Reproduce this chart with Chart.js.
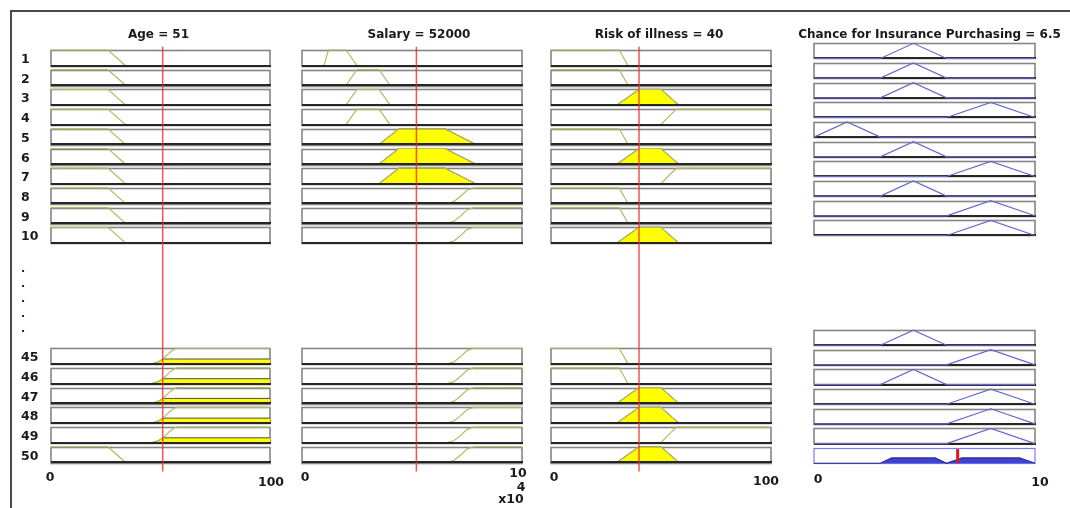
<!DOCTYPE html>
<html>
<head>
<meta charset="utf-8">
<script src="https://cdn.jsdelivr.net/npm/chart.js@4.4.1/dist/chart.umd.min.js"></script>
<style>
  html, body { margin: 0; padding: 0; background: #fff; }
  #wrap { position: relative; width: 1070px; height: 508px; overflow: hidden; background: #fff; }
  #wrap canvas { position: absolute; left: 0; top: 0; }
</style>
</head>
<body>
<div id="wrap">
  <canvas id="colAge" width="1070" height="508"></canvas>
  <canvas id="colSalary" width="1070" height="508"></canvas>
  <canvas id="colRisk" width="1070" height="508"></canvas>
  <canvas id="colChance" width="1070" height="508"></canvas>
</div>
<script>
// ---- inputs and crisp output ----
const inputAge = 51;
const inputSalary = 52000;
const inputRisk = 40;
const outputChance = 6.5;

// ---- membership functions: [value, degree] vertices ----
const ageYoung = [[0, 1], [26, 1], [34, 0], [100, 0]];
const ageOld = [[0, 0], [46, 0], [48, 0.07], [50, 0.2], [52, 0.42], [54, 0.7], [56, 0.92], [57.5, 1], [100, 1]];

const salaryVeryLow = [[0, 0], [10000, 0], [12000, 1], [20000, 1], [25000, 0], [100000, 0]];
const salaryLow = [[0, 0], [20000, 0], [25000, 1], [35000, 1], [40000, 0], [100000, 0]];
const salaryMedium = [[0, 0], [35000, 0], [44000, 1], [65000, 1], [79000, 0], [100000, 0]];
const salaryHigh = [[0, 0], [66000, 0], [69000, 0.12], [72000, 0.45], [75000, 0.85], [78000, 1], [100000, 1]];

const riskLow = [[0, 1], [31, 1], [35, 0], [100, 0]];
const riskMedium = [[0, 0], [30, 0], [40, 1], [50, 1], [58, 0], [100, 0]];
const riskHigh = [[0, 0], [50, 0], [53, 0.45], [57, 1], [100, 1]];

const chanceLow = [[0, 0], [1.5, 1], [3, 0], [10, 0]];
const chanceMid = [[0, 0], [3, 0], [4.5, 1], [6, 0], [10, 0]];
const chanceHigh = [[0, 0], [6, 0], [8, 1], [10, 0]];

// aggregated output set (all 50 rules)
const chanceAggregate = [[0, 0], [3, 0], [3.52, 0.35], [5.48, 0.35], [6, 0], [6.7, 0.35], [9.3, 0.35], [10, 0]];

// ---- rules shown ----
const ruleNumbers = [1, 2, 3, 4, 5, 6, 7, 8, 9, 10, 45, 46, 47, 48, 49, 50];
const ruleAge = ['young', 'young', 'young', 'young', 'young', 'young', 'young', 'young', 'young', 'young',
                 'old', 'old', 'old', 'old', 'old', 'young'];
const ruleSalary = ['veryLow', 'low', 'low', 'low', 'medium', 'medium', 'medium', 'high', 'high', 'high',
                    'high', 'high', 'high', 'high', 'high', 'high'];
const ruleRisk = ['low', 'low', 'medium', 'high', 'low', 'medium', 'high', 'low', 'low', 'medium',
                  'low', 'low', 'medium', 'medium', 'high', 'medium'];
const ruleChance = ['mid', 'mid', 'mid', 'high', 'low', 'mid', 'high', 'mid', 'high', 'high',
                    'mid', 'high', 'mid', 'high', 'high', 'high'];

const ageSets = { young: ageYoung, old: ageOld };
const salarySets = { veryLow: salaryVeryLow, low: salaryLow, medium: salaryMedium, high: salaryHigh };
const riskSets = { low: riskLow, medium: riskMedium, high: riskHigh };
const chanceSets = { low: chanceLow, mid: chanceMid, high: chanceHigh };

// ---- layout (row slots in units of the row pitch) ----
const W = 1070, H = 508;
const inputSlots = [0, 1, 2, 3, 4, 5, 6, 7, 8, 9, 15.14, 16.14, 17.14, 18.14, 19.14, 20.14];
const outputSlots = [0, 1, 2, 3, 4, 5, 6, 7, 8, 9, 14.58, 15.58, 16.58, 17.58, 18.58, 19.58];
const aggregateSlot = 20.58;

const FONT = '"DejaVu Sans", "Liberation Sans", Arial, sans-serif';
const MF_INPUT = 'rgb(184,184,100)';
const MF_OUTPUT = 'rgb(104,104,206)';
const YELLOW = '#ffff00';

function evalMF(pts, v) {
  for (let i = 1; i < pts.length; i++) {
    const [x0, m0] = pts[i - 1], [x1, m1] = pts[i];
    if (v >= x0 && v <= x1) return x1 === x0 ? m1 : m0 + (m1 - m0) * (v - x0) / (x1 - x0);
  }
  return 0;
}
function clipMF(pts, d) {
  const out = [];
  for (let i = 0; i < pts.length; i++) {
    const [x, m] = pts[i];
    if (i > 0) {
      const [px, pm] = pts[i - 1];
      if ((pm - d) * (m - d) < 0) {
        const t = (d - pm) / (m - pm);
        out.push([px + t * (x - px), d]);
      }
    }
    out.push([x, Math.min(m, d)]);
  }
  return out;
}
function toXY(pts, slot, bh) {
  return pts.map(([x, m]) => ({ x: x, y: slot + bh * (1 - m) }));
}

function crisp(v) { return Math.round(v) + 0.5; }

// draws row frames, red input line, titles and labels
const rulePanels = {
  id: 'rulePanels',
  beforeDraw(chart) {
    const o = chart.options.plugins.rulePanels;
    const ctx = chart.ctx;
    if (o.frame) {
      ctx.save();
      ctx.strokeStyle = '#4a4a4a';
      ctx.lineWidth = 2;
      ctx.beginPath();
      ctx.moveTo(11, H);
      ctx.lineTo(11, 11);
      ctx.lineTo(W, 11);
      ctx.stroke();
      ctx.restore();
    }
  },
  beforeDatasetsDraw(chart) {
    const o = chart.options.plugins.rulePanels;
    const ctx = chart.ctx, xs = chart.scales.x, ys = chart.scales.y;
    const x0 = xs.getPixelForValue(xs.min), x1 = xs.getPixelForValue(xs.max);
    ctx.save();
    o.slots.forEach((s, i) => {
      const y0 = ys.getPixelForValue(s), y1 = ys.getPixelForValue(s + o.bh);
      const agg = o.aggIndex === i;
      ctx.fillStyle = '#fff';
      ctx.fillRect(x0, y0, x1 - x0, y1 - y0);
      ctx.lineWidth = agg ? 1.2 : 1.6;
      ctx.strokeStyle = agg ? '#7a7aff' : '#858585';
      ctx.strokeRect(crisp(x0) - 0.5, crisp(y0), Math.round(x1 - x0), Math.round(y1 - y0));
      if (o.baseFirst && !agg) {
        ctx.strokeStyle = '#262626';
        ctx.lineWidth = 2;
        ctx.beginPath();
        ctx.moveTo(x0, Math.round(y1));
        ctx.lineTo(x1 + 1, Math.round(y1));
        ctx.stroke();
      }
    });
    ctx.restore();
  },
  afterDatasetsDraw(chart) {
    const o = chart.options.plugins.rulePanels;
    const ctx = chart.ctx, xs = chart.scales.x, ys = chart.scales.y;
    const x0 = xs.getPixelForValue(xs.min), x1 = xs.getPixelForValue(xs.max);
    ctx.save();
    if (!o.baseFirst) {
      o.slots.forEach((s) => {
        const y1 = ys.getPixelForValue(s + o.bh);
        ctx.strokeStyle = '#262626';
        ctx.lineWidth = 2;
        ctx.beginPath();
        ctx.moveTo(x0, Math.round(y1));
        ctx.lineTo(x1 + 1, Math.round(y1));
        ctx.stroke();
      });
    }
    // input value line
    if (o.input !== undefined) {
      const xp = xs.getPixelForValue(o.input);
      ctx.strokeStyle = 'rgba(245,40,40,0.8)';
      ctx.lineWidth = 1.5;
      ctx.beginPath();
      ctx.moveTo(xp, ys.getPixelForValue(-0.17));
      ctx.lineTo(xp, ys.getPixelForValue(21.4));
      ctx.stroke();
    }
    // crisp output line in the aggregate panel
    if (o.output !== undefined) {
      const xp = xs.getPixelForValue(o.output);
      const s = o.slots[o.aggIndex];
      ctx.strokeStyle = '#e8101a';
      ctx.lineWidth = 3;
      ctx.beginPath();
      ctx.moveTo(xp, ys.getPixelForValue(s) + 1);
      ctx.lineTo(xp, ys.getPixelForValue(s + o.bh));
      ctx.stroke();
    }
    // title
    ctx.fillStyle = '#1a1a1a';
    ctx.font = 'bold 12px ' + FONT;
    ctx.textAlign = 'center';
    ctx.textBaseline = 'alphabetic';
    ctx.fillText(o.title, (x0 + x1) / 2 + o.titleDx, 38);
    // axis end labels
    ctx.font = 'bold 12.5px ' + FONT;
    o.ends.forEach((e) => {
      ctx.fillText(e.text, xs.getPixelForValue(e.value) + e.dx, e.y);
    });
    // rule numbers and ellipsis dots
    if (o.ruleLabels) {
      ctx.textAlign = 'left';
      ctx.textBaseline = 'middle';
      o.ruleLabels.forEach((lab, i) => {
        const yc = ys.getPixelForValue(o.slots[i] + o.bh / 2);
        ctx.fillText(String(lab), 21, yc + 2);
      });
      ctx.font = 'bold 11px ' + FONT;
      o.dotsY.forEach((dy) => ctx.fillText('.', 21, dy));
    }
    ctx.restore();
  }
};

function buildColumn(canvasId, spec) {
  const bh = spec.bh;
  const datasets = [];
  spec.sets.forEach((pts, i) => {
    const slot = spec.slots[i];
    if (spec.input !== undefined) {
      const d = evalMF(pts, spec.input);
      if (d > 0) {
        datasets.push({
          data: toXY(clipMF(pts, d), slot, bh),
          borderColor: '#4d4d4d', borderWidth: 1,
          backgroundColor: YELLOW,
          fill: { value: slot + bh },
          order: 2, clip: 6
        });
      }
    }
    datasets.push({
      data: toXY(pts, slot, bh),
      borderColor: spec.lineColor, borderWidth: 1.2,
      fill: false, order: 1, clip: 6
    });
  });
  if (spec.aggregate) {
    const slot = spec.slots[spec.aggIndex];
    datasets.push({
      data: toXY(spec.aggregate, slot, bh),
      borderColor: '#2c2c8c', borderWidth: 1.2,
      backgroundColor: '#4242d0',
      fill: { value: slot + bh },
      order: 2, clip: 6
    });
  }
  return new Chart(document.getElementById(canvasId), {
    type: 'line',
    data: { datasets: datasets },
    options: {
      responsive: false,
      animation: false,
      events: [],
      layout: { padding: { left: spec.left, right: W - spec.right, top: 0, bottom: 0 } },
      elements: { point: { radius: 0 }, line: { tension: 0 } },
      scales: {
        x: { type: 'linear', min: spec.min, max: spec.max, display: false },
        y: { type: 'linear', min: -spec.origin / spec.pitch, max: (H - spec.origin) / spec.pitch,
             reverse: true, display: false }
      },
      plugins: {
        legend: { display: false },
        tooltip: { enabled: false },
        rulePanels: {
          slots: spec.slots, bh: bh, baseFirst: spec.baseFirst, aggIndex: spec.aggIndex,
          input: spec.input, output: spec.output, title: spec.title, titleDx: spec.titleDx,
          ends: spec.ends, ruleLabels: spec.ruleLabels, dotsY: spec.dotsY, frame: spec.frame
        }
      }
    },
    plugins: [rulePanels]
  });
}

buildColumn('colAge', {
  min: 0, max: 100, left: 51, right: 270, origin: 50, pitch: 19.7, bh: 0.79,
  slots: inputSlots, sets: ruleAge.map((t) => ageSets[t]), lineColor: MF_INPUT,
  input: inputAge, title: 'Age = ' + inputAge, titleDx: -2,
  ends: [{ text: '0', value: 0, dx: -1, y: 481 }, { text: '100', value: 100, dx: 1, y: 486 }],
  ruleLabels: ruleNumbers, dotsY: [269, 284, 299, 314, 329], frame: true
});
buildColumn('colSalary', {
  min: 0, max: 100000, left: 302, right: 522, origin: 50, pitch: 19.7, bh: 0.79,
  slots: inputSlots, sets: ruleSalary.map((t) => salarySets[t]), lineColor: MF_INPUT,
  input: inputSalary, title: 'Salary = ' + inputSalary, titleDx: 7,
  ends: [{ text: '0', value: 0, dx: 3, y: 481 },
         { text: '10', value: 100000, dx: -4, y: 477 },
         { text: '4', value: 100000, dx: -1, y: 491 },
         { text: 'x10', value: 100000, dx: -11, y: 503 }]
});
buildColumn('colRisk', {
  min: 0, max: 100, left: 551, right: 771, origin: 50, pitch: 19.7, bh: 0.79,
  slots: inputSlots, sets: ruleRisk.map((t) => riskSets[t]), lineColor: MF_INPUT,
  input: inputRisk, title: 'Risk of illness = ' + inputRisk, titleDx: -2,
  ends: [{ text: '0', value: 0, dx: 3, y: 481 }, { text: '100', value: 100, dx: -5, y: 485 }]
});
buildColumn('colChance', {
  min: 0, max: 10, left: 814, right: 1035, origin: 43.3, pitch: 19.67, bh: 0.77,
  slots: outputSlots.concat([aggregateSlot]),
  sets: ruleChance.map((t) => chanceSets[t]), lineColor: MF_OUTPUT,
  aggregate: chanceAggregate, aggIndex: outputSlots.length, baseFirst: true,
  output: outputChance, title: 'Chance for Insurance Purchasing = ' + outputChance, titleDx: 5,
  ends: [{ text: '0', value: 0, dx: 4, y: 483 }, { text: '10', value: 10, dx: 5, y: 486 }]
});
</script>
</body>
</html>
